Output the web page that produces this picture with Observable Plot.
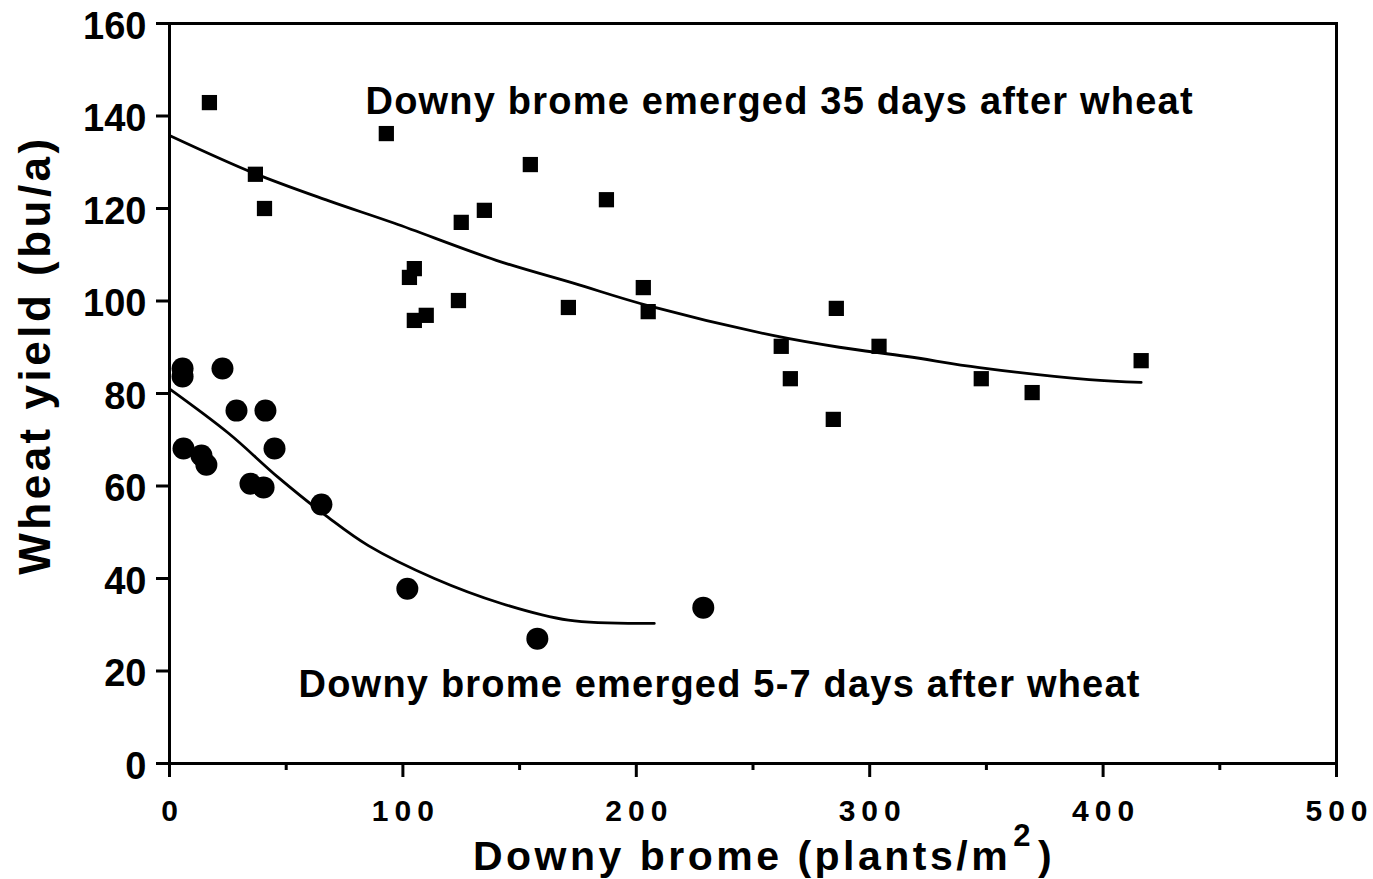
<!DOCTYPE html>
<html>
<head>
<meta charset="utf-8">
<script src="https://cdn.jsdelivr.net/npm/d3@7"></script>
<script src="https://cdn.jsdelivr.net/npm/@observablehq/plot@0.6"></script>
<style>
  html, body { margin: 0; padding: 0; background: #fff; }
</style>
</head>
<body>
<div id="chart"></div>
<script>
// ---- Data ----
// Downy brome emerged 35 days after wheat (squares)
const lateX = [17.1, 36.8, 40.7, 92.9, 154.6, 134.9, 125.0, 187.2, 102.8, 104.9, 104.9, 110.0, 123.8, 170.9, 203.0, 205.1, 262.1, 266.0, 285.7, 284.4, 304.0, 347.8, 369.6, 416.3];
const lateY = [142.9, 127.4, 120.0, 136.2, 129.5, 119.6, 117.0, 121.9, 105.1, 107.0, 95.8, 96.9, 100.1, 98.6, 102.9, 97.7, 90.2, 83.2, 98.4, 74.4, 90.2, 83.2, 80.2, 87.1];
// Downy brome emerged 5-7 days after wheat (circles)
const earlyX = [5.6, 5.6, 22.7, 28.7, 41.1, 6.0, 13.7, 15.8, 45.0, 34.7, 40.3, 65.1, 101.9, 157.6, 228.7];
const earlyY = [85.4, 83.7, 85.4, 76.3, 76.3, 68.1, 66.6, 64.6, 68.1, 60.5, 59.7, 56.0, 37.8, 27.0, 33.7];
// Fitted curves
const lateCurveX = [0, 36.4, 68, 96.4, 140, 173.4, 205, 259, 287, 316, 347, 394, 416.3];
const lateCurveY = [135.8, 127.6, 121.7, 116.8, 108.8, 103.8, 99.0, 92.5, 90.0, 88.0, 85.6, 83.0, 82.4];
const earlyCurveX = [0, 25.3, 46.7, 68, 85.2, 113.5, 142.2, 170.9, 207.7];
const earlyCurveY = [81.0, 71.4, 61.8, 53.2, 47.1, 40.0, 34.6, 31.0, 30.3];
// Ticks and labels
const xTicks = [0, 100, 200, 300, 400, 500];
const xMinorTicks = [50, 150, 250, 350, 450];
const yTicks = [0, 20, 40, 60, 80, 100, 120, 140, 160];
const xLabelMain = "Downy brome (plants/m";
const xLabelSup = "2";
const xLabelEnd = ")";
const yLabel = "Wheat yield (bu/a)";
const lateLabel = "Downy brome emerged 35 days after wheat";
const earlyLabel = "Downy brome emerged 5-7 days after wheat";
const lateLabelPos = [84, 140.5];
const earlyLabelPos = [55.3, 14.3];

// ---- Build tables ----
const late = lateX.map((x, i) => ({x, y: lateY[i]}));
const early = earlyX.map((x, i) => ({x, y: earlyY[i]}));
const lateCurve = lateCurveX.map((x, i) => ({x, y: lateCurveY[i]}));
const earlyCurve = earlyCurveX.map((x, i) => ({x, y: earlyCurveY[i]}));
const annotations = [
  {x: lateLabelPos[0], y: lateLabelPos[1], text: lateLabel},
  {x: earlyLabelPos[0], y: earlyLabelPos[1], text: earlyLabel}
];

const font = "'Liberation Sans', Arial, Helvetica, sans-serif";

const plot = Plot.plot({
  width: 1373,
  height: 879,
  marginLeft: 169,
  marginRight: 37,
  marginTop: 23,
  marginBottom: 116,
  style: {fontFamily: font, fontWeight: "bold", color: "#000", background: "#fff"},
  x: {domain: [0, 500]},
  y: {domain: [0, 160]},
  marks: [
    Plot.frame({stroke: "#000", strokeWidth: 3}),
    Plot.axisY({ticks: yTicks, tickSize: 13, strokeWidth: 3, tickFormat: () => "", label: null}),
    Plot.axisY({ticks: yTicks, tickSize: 0, tickPadding: 23, dy: 3, fontSize: 38, fontWeight: "bold", label: null}),
    Plot.axisX({ticks: xMinorTicks, tickSize: 7, strokeWidth: 3, tickFormat: () => "", label: null}),
    Plot.axisX({ticks: xTicks, tickSize: 14, tickPadding: 22, strokeWidth: 3, fontSize: 30, fontWeight: "bold", label: null}),
    Plot.line(lateCurve, {x: "x", y: "y", curve: "catmull-rom", stroke: "#000", strokeWidth: 2.8}),
    Plot.line(earlyCurve, {x: "x", y: "y", curve: "catmull-rom", stroke: "#000", strokeWidth: 2.8}),
    Plot.dot(late, {x: "x", y: "y", symbol: "square", r: 8.6, fill: "#000", stroke: null}),
    Plot.dot(early, {x: "x", y: "y", symbol: "circle", r: 11, fill: "#000", stroke: null}),
    Plot.text(annotations, {x: "x", y: "y", text: "text", textAnchor: "start", lineAnchor: "bottom", fontSize: 38, fontWeight: "bold", fill: "#000"})
  ]
});

const svg = d3.select(plot);
svg.selectAll('g[aria-label="x-axis tick label"] text')
  .attr("letter-spacing", 6).attr("dx", 3);
svg.selectAll('g[aria-label="text"] text').attr("letter-spacing", 1.2);

// Axis titles
const xt = svg.append("text")
  .attr("x", 764).attr("y", 870)
  .attr("text-anchor", "middle")
  .attr("font-family", font).attr("font-weight", "bold")
  .attr("font-size", 41).attr("letter-spacing", 3.5).attr("fill", "#000");
xt.append("tspan").text(xLabelMain);
xt.append("tspan").attr("dy", -24).attr("dx", 2).attr("font-size", 31).text(xLabelSup);
xt.append("tspan").attr("dy", 24).attr("dx", 4).text(xLabelEnd);

svg.append("text")
  .attr("transform", "translate(50,355) rotate(-90)")
  .attr("text-anchor", "middle")
  .attr("font-family", font).attr("font-weight", "bold")
  .attr("font-size", 44).attr("letter-spacing", 3.5).attr("fill", "#000")
  .text(yLabel);

document.getElementById("chart").appendChild(plot);
</script>
</body>
</html>
